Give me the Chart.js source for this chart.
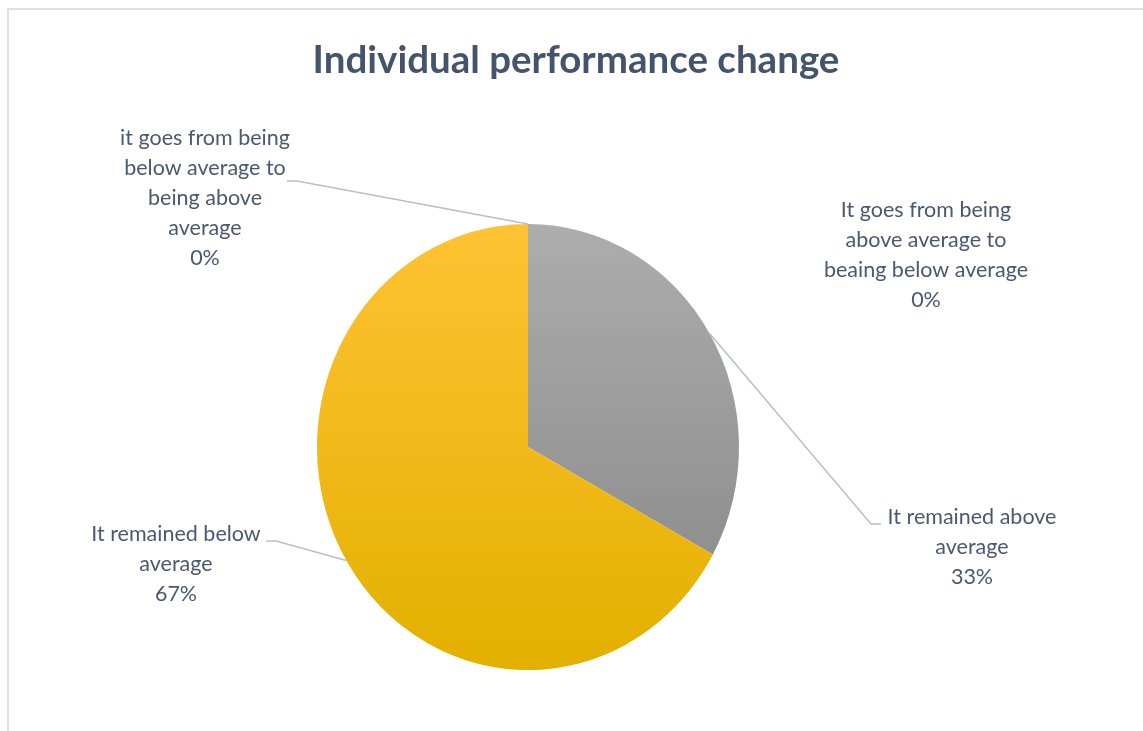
<!DOCTYPE html>
<html>
<head>
<meta charset="utf-8">
<script src="https://cdn.jsdelivr.net/npm/chart.js@4"></script>
<style>
  body { margin: 0; background: #fff; }
  canvas { display: block; }
</style>
</head>
<body>
<canvas id="pieChart" width="1143" height="731"></canvas>
<script>
// data (slices go clockwise from 12 o'clock)
const categories = [
    ["It goes from being", "above average to", "beaing below average"],
    ["It remained above", "average"],
    ["It remained below", "average"],
    ["it goes from being", "below average to", "being above", "average"]
];
const values = [0, 33, 67, 0];
const chartTitle = "Individual performance change";

// look
const topColors = ["#5b9bd5", "#adadad", "#ffc233", "#70ad47"];
const bottomColors = ["#4a86be", "#858585", "#e3b000", "#5f9a3b"];
const textColor = "#4a5870";
const lineColor = "#b7bfcc";
const stretchY = 1.057; // source picture is a bit taller than wide

// where each data label sits (centre x, first line y) and its leader elbow
const labelPos = [
    { x: 926, y: 210 },
    { x: 972, y: 517 },
    { x: 176, y: 534 },
    { x: 205, y: 138 }
];
const leaders = [
    null,
    { x: 881, y: 524, dir: -1 },
    { x: 266, y: 541, dir: 1 },
    { x: 287, y: 181, dir: 1 }
];

const total = values.reduce((a, b) => a + b, 0);

const stretch = {
    id: 'stretch',
    beforeDatasetsDraw(chart) {
        const arc = chart.getDatasetMeta(0).data[0];
        const c = chart.ctx;
        c.save();
        c.translate(arc.x, arc.y);
        c.scale(1, stretchY);
        c.translate(-arc.x, -arc.y);
    },
    afterDatasetsDraw(chart) {
        chart.ctx.restore();
    }
};

const pieLabels = {
    id: 'pieLabels',
    beforeDraw(chart) {
        const c = chart.ctx;
        c.save();
        c.fillStyle = "#fff";
        c.fillRect(0, 0, chart.width, chart.height);
        // frame
        c.fillStyle = "#dde0e8";
        c.fillRect(7, 8, chart.width - 7, 2);
        c.fillRect(7, 8, 2, chart.height - 8);
        // title
        c.fillStyle = "#44546a";
        c.font = "bold 38.5px Lato";
        c.textAlign = "center";
        c.textBaseline = "alphabetic";
        c.fillText(chartTitle, 576, 73);
        c.restore();
    },
    afterDraw(chart) {
        const c = chart.ctx;
        const arcs = chart.getDatasetMeta(0).data;
        c.save();
        // leader lines
        c.strokeStyle = lineColor;
        c.lineWidth = 1.5;
        leaders.forEach((l, i) => {
            if (!l) return;
            const a = arcs[i];
            const mid = (a.startAngle + a.endAngle) / 2;
            const px = a.x + Math.cos(mid) * a.outerRadius;
            const py = a.y + Math.sin(mid) * a.outerRadius * stretchY;
            c.beginPath();
            c.moveTo(l.x, l.y);
            c.lineTo(l.x + l.dir * 10, l.y);
            c.lineTo(px, py);
            c.stroke();
        });
        // text
        c.fillStyle = textColor;
        c.font = "21.5px Lato";
        c.textAlign = "center";
        c.textBaseline = "middle";
        categories.forEach((lines, i) => {
            const pct = Math.round(values[i] / total * 100) + "%";
            const all = lines.concat([pct]);
            all.forEach((t, k) => {
                c.fillText(t, labelPos[i].x, labelPos[i].y + k * 30);
            });
        });
        c.restore();
    }
};

function sliceFill(context) {
    const i = context.dataIndex;
    const area = context.chart.chartArea;
    if (!area) return topColors[i];
    const g = context.chart.ctx.createLinearGradient(0, area.top, 0, area.bottom);
    g.addColorStop(0, topColors[i]);
    g.addColorStop(1, bottomColors[i]);
    return g;
}

const ctx = document.getElementById("pieChart");
const pieChart = new Chart(ctx, {
    type: 'pie',
    data: {
        labels: categories,
        datasets: [{
            data: values,
            backgroundColor: sliceFill,
            borderWidth: 0
        }]
    },
    options: {
        responsive: false,
        animation: false,
        layout: { padding: { left: 317, right: 404, top: 236, bottom: 73 } },
        plugins: {
            legend: { display: false },
            tooltip: { enabled: false },
            title: { display: false }
        }
    },
    plugins: [stretch, pieLabels]
});
</script>
</body>
</html>
